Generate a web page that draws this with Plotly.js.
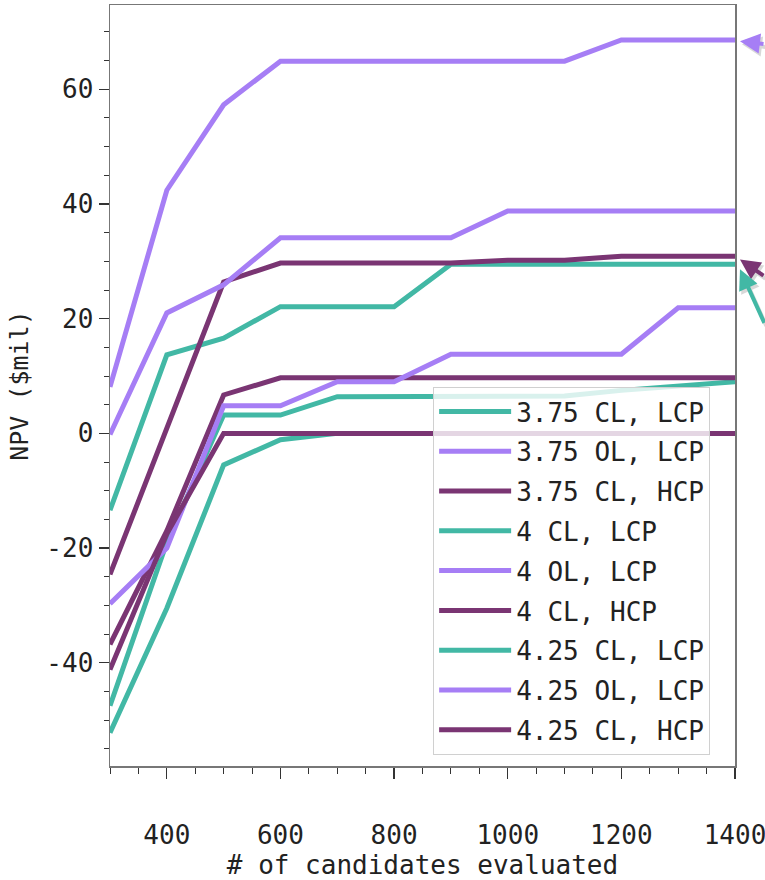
<!DOCTYPE html>
<html>
<head>
<meta charset="utf-8">
<script src="https://cdn.plot.ly/plotly-3.0.1.min.js"></script>
<style>html,body{margin:0;padding:0;background:#fff;}</style>
</head>
<body>
<div id="chart" style="width:765px;height:880px;"></div>
<script>
// ---- data ----
const candidates = [300, 400, 500, 600, 700, 800, 900, 1000, 1100, 1200, 1300, 1400];
const seriesNames = ["3.75 CL, LCP", "3.75 OL, LCP", "3.75 CL, HCP",
                     "4 CL, LCP", "4 OL, LCP", "4 CL, HCP",
                     "4.25 CL, LCP", "4.25 OL, LCP", "4.25 CL, HCP"];
const npv_375_CL_LCP = [-13.4, 13.7, 16.6, 22.1, 22.1, 22.1, 29.5, 29.5, 29.5, 29.5, 29.5, 29.5];
const npv_375_OL_LCP = [8.1, 42.4, 57.3, 64.9, 64.9, 64.9, 64.9, 64.9, 64.9, 68.6, 68.6, 68.6];
const npv_375_CL_HCP = [-24.6, 1.0, 26.4, 29.7, 29.7, 29.7, 29.7, 30.2, 30.2, 30.9, 30.9, 30.9];
const npv_4_CL_LCP   = [-47.5, -19.0, 3.2, 3.2, 6.4, 6.4, 6.4, 6.4, 6.5, 7.5, 8.3, 9.0];
const npv_4_OL_LCP   = [-0.2, 21.0, 25.9, 34.1, 34.1, 34.1, 34.1, 38.8, 38.8, 38.8, 38.8, 38.8];
const npv_4_CL_HCP   = [-36.8, -17.0, 6.7, 9.7, 9.7, 9.7, 9.7, 9.7, 9.7, 9.7, 9.7, 9.7];
const npv_425_CL_LCP = [-52.2, -30.5, -5.5, -1.1, 0, 0, 0, 0, 0, 0, 0, 0];
const npv_425_OL_LCP = [-29.7, -20.0, 4.8, 4.8, 9.0, 9.0, 13.8, 13.8, 13.8, 13.8, 21.9, 21.9];
const npv_425_CL_HCP = [-41.2, -17.5, 0, 0, 0, 0, 0, 0, 0, 0, 0, 0];
const seriesValues = [npv_375_CL_LCP, npv_375_OL_LCP, npv_375_CL_HCP,
                      npv_4_CL_LCP, npv_4_OL_LCP, npv_4_CL_HCP,
                      npv_425_CL_LCP, npv_425_OL_LCP, npv_425_CL_HCP];
const xTickVals = [400, 600, 800, 1000, 1200, 1400];
const xTickText = ["400", "600", "800", "1000", "1200", "1400"];
const yTickVals = [-40, -20, 0, 20, 40, 60];
const yTickText = ["-40", "-20", "0", "20", "40", "60"];

// ---- styles ----
const TEAL = "#42b8a5", LAV = "#a67ef5", PURP = "#7a3573";
const colors = [TEAL, LAV, PURP, TEAL, LAV, PURP, TEAL, LAV, PURP];
const FONT = "DejaVu Sans Mono";

const traces = seriesNames.map((n, i) => ({
  type: "scatter", mode: "lines", name: n,
  x: candidates, y: seriesValues[i],
  line: {color: colors[i], width: 5},
  legendgroup: "g" + i
}));

function arrow(y, ax, ay, color) {
  return [
    {xref: "paper", yref: "y", x: 1.008, y: y, text: "", showarrow: true,
     ax: ax, ay: ay, arrowhead: 2, arrowsize: 1, arrowwidth: 4,
     arrowcolor: "rgba(0,0,0,0.15)", xshift: 2, yshift: -3},
    {xref: "paper", yref: "y", x: 1.008, y: y, text: "", showarrow: true,
     ax: ax, ay: ay, arrowhead: 2, arrowsize: 1, arrowwidth: 4, arrowcolor: color}
  ];
}

const layout = {
  width: 765, height: 880,
  margin: {l: 110, r: 30, t: 5, b: 114},
  paper_bgcolor: "#fff", plot_bgcolor: "#fff",
  font: {family: FONT, size: 26, color: "#222"},
  showlegend: true,
  legend: {
    x: 0.517, y: 0.498, xanchor: "left", yanchor: "top",
    bgcolor: "rgba(255,255,255,0.8)", bordercolor: "#d0d0d0", borderwidth: 1,
    font: {family: FONT, size: 26, color: "#222"},
    tracegroupgap: 3, itemwidth: 72
  },
  xaxis: {
    range: [300, 1400], tickvals: xTickVals, ticktext: xTickText,
    ticks: "outside", ticklen: 11, tickwidth: 1.3, tickcolor: "#333",
    ticklabelstandoff: 34, ticklabeloverflow: "allow",
    minor: {dtick: 50, tick0: 300, ticks: "outside", ticklen: 6, tickwidth: 1, tickcolor: "#333"},
    showline: true, linecolor: "#777", linewidth: 1.5, mirror: true,
    showgrid: false, zeroline: false,
    title: {text: "# of candidates evaluated", font: {family: FONT, size: 26, color: "#222"}, standoff: 2}
  },
  yaxis: {
    range: [-58, 74.7], tickvals: yTickVals, ticktext: yTickText,
    ticks: "outside", ticklen: 10, tickwidth: 1.3, tickcolor: "#333",
    minor: {dtick: 5, tick0: 0, ticks: "outside", ticklen: 5, tickwidth: 1, tickcolor: "#333"},
    showline: true, linecolor: "#777", linewidth: 1.5, mirror: true,
    showgrid: false, zeroline: false,
    title: {text: "NPV ($mil)", font: {family: FONT, size: 25, color: "#222"}, standoff: 10}
  },
  annotations: [].concat(
    arrow(68.4, 30, 3, LAV),
    arrow(30.3, 28, 17, PURP),
    arrow(28.6, 28, 55, TEAL)
  )
};

Plotly.newPlot("chart", traces, layout, {displayModeBar: false, staticPlot: true});
</script>
</body>
</html>
